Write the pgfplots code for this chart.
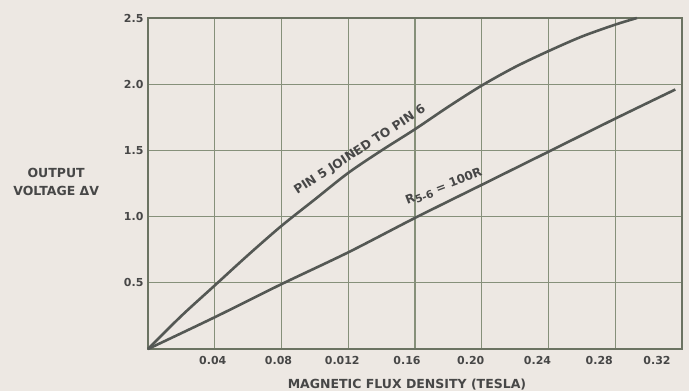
\documentclass[border=0pt]{standalone}
\usepackage{pgfplots}
\pgfplotsset{compat=1.18}
\usepackage{fontspec}
\setmainfont{DejaVu Sans}
\definecolor{bg}{HTML}{EDE8E3}
\definecolor{gridc}{HTML}{86907A}
\definecolor{curve}{HTML}{545854}
\definecolor{txt}{HTML}{474747}
\begin{document}
\begin{tikzpicture}
\useasboundingbox[fill=bg] (-148pt,-42pt) rectangle (541pt,349pt);
\begin{axis}[
  scale only axis, width=534pt, height=331pt,
  xmin=0, xmax=0.32, ymin=0, ymax=2.5,
  xtick={0.04,0.08,0.12,0.16,0.20,0.24,0.28,0.32},
  xticklabels={\hspace*{-4pt}0.04,\hspace*{-6pt}0.08,\hspace*{-12pt}0.012,\hspace*{-16pt}0.16,\hspace*{-22pt}0.20,\hspace*{-22pt}0.24,\hspace*{-32pt}0.28,\hspace*{-50pt}0.32},
  ytick={0.5,1.0,1.5,2.0,2.5},
  yticklabels={0.5,1.0,1.5,2.0,2.5},
  major tick length=0pt,
  grid=major,
  major grid style={gridc, line width=1.1pt},
  axis line style={gridc!80!black, line width=1.6pt},
  /pgf/number format/assume math mode=true,
  tick label style={font=\bfseries\fontsize{11}{13}\selectfont, text=txt},
  xticklabel style={yshift=-4pt},
  yticklabel style={xshift=-1pt},
  xlabel={MAGNETIC FLUX DENSITY (TESLA)},
  xlabel style={font=\bfseries\fontsize{12.5}{14}\selectfont, text=txt, at={(axis description cs:0.485,-0.106)}, anchor=center},
  ylabel={OUTPUT\\VOLTAGE ΔV},
  ylabel style={font=\bfseries\fontsize{12.5}{18}\selectfont, text=txt, align=center, rotate=-90, at={(axis description cs:-0.172,0.5045)}, anchor=center},
  clip=false,
]
\addplot[curve, line width=2.6pt, smooth] coordinates {
 (0,0) (0.02,0.25) (0.04,0.48) (0.06,0.71) (0.08,0.93) (0.10,1.13) (0.12,1.33)
 (0.14,1.50) (0.16,1.66) (0.18,1.83) (0.20,1.99) (0.22,2.13) (0.24,2.25)
 (0.26,2.36) (0.28,2.45) (0.293,2.5)};
\addplot[curve, line width=2.6pt, smooth] coordinates {
 (0,0) (0.04,0.24) (0.08,0.49) (0.12,0.73) (0.16,0.99) (0.20,1.24)
 (0.24,1.49) (0.28,1.74) (0.316,1.96)};
\node[rotate=33, anchor=base, text=txt, font=\bfseries\fontsize{12.3}{14}\selectfont] at (axis cs:0.1282,1.480) {PIN 5 JOINED TO PIN 6};
\node[rotate=21, anchor=base, text=txt, font=\bfseries\fontsize{12}{14}\selectfont] at (axis cs:0.178,1.20) {R\raisebox{-2.5pt}{\fontsize{10.5}{12}\selectfont 5-6} = 100R};
\end{axis}
\end{tikzpicture}
\end{document}
